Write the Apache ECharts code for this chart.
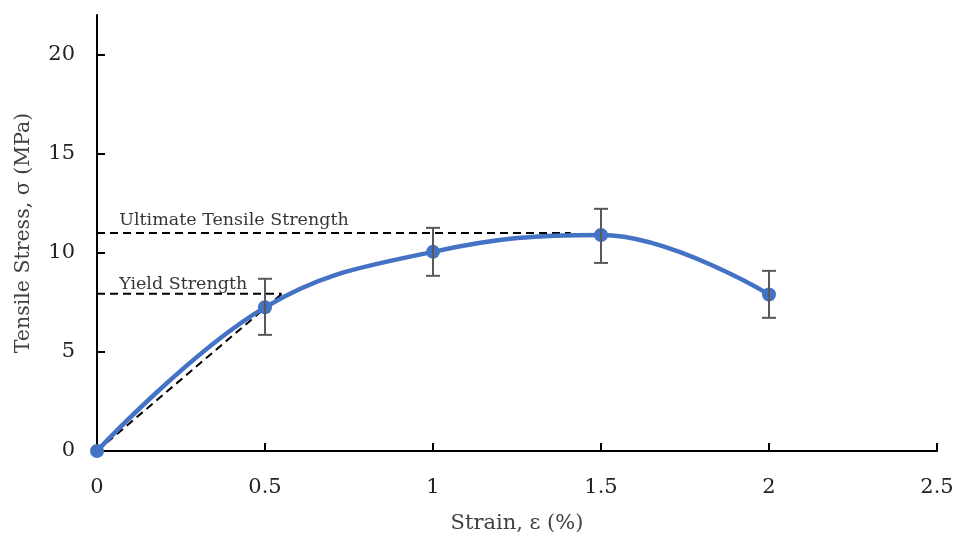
<!DOCTYPE html>
<html lang="en">
  <head>
    <meta charset="UTF-8">
    <title>Tensile stress vs strain</title>
    <script src="https://cdn.jsdelivr.net/npm/echarts@6/dist/echarts.min.js"></script>
    <style>
      html, body { margin: 0; padding: 0; background: #fff; }
      #chart { width: 957px; height: 537px; }
    </style>
  </head>
  <body>
    <div id="chart"></div>
    <script>
      // 测量数据
      const strain = [0, 0.5, 1, 1.5, 2]
      const stress = [0, 7.25, 10.05, 10.9, 7.9]
      const errLow = [0, 5.86, 8.84, 9.49, 6.72]
      const errHigh = [0, 8.69, 11.26, 12.22, 9.09]
      // 辅助虚线
      const utsLine = [[0, 11], [1.41, 11]]
      const yieldLine = [[0, 7.93], [0.55, 7.93]]
      const slopeLine = [[0, 0], [0.55, 7.93]]
      const notes = [
        { value: [0.066, 11.65], name: 'Ultimate Tensile Strength' },
        { value: [0.066, 8.4], name: 'Yield Strength' }
      ]

      const font = 'DejaVu Serif'
      const chart = echarts.init(document.getElementById('chart'))

      const dashed = (data) => ({
        type: 'line',
        data: data,
        symbol: 'none',
        silent: true,
        lineStyle: { color: '#000', width: 2, type: [8, 5] },
        z: 1
      })

      chart.setOption({
        animation: false,
        grid: { left: 97, right: 20, top: 15, bottom: 86, containLabel: false, outerBoundsMode: 'none' },
        xAxis: {
          type: 'value',
          min: 0,
          max: 2.5,
          interval: 0.5,
          name: 'Strain, ε (%)',
          nameLocation: 'middle',
          nameGap: 62,
          nameTextStyle: { fontFamily: font, fontSize: 21, color: '#404040' },
          axisLine: { lineStyle: { color: '#000', width: 2 } },
          axisTick: { inside: true, length: 8, lineStyle: { color: '#000', width: 2 } },
          axisLabel: { fontFamily: font, fontSize: 21, color: '#222', margin: 26 },
          splitLine: { show: false }
        },
        yAxis: {
          type: 'value',
          min: 0,
          max: 22,
          interval: 5,
          name: 'Tensile Stress, σ (MPa)',
          nameLocation: 'middle',
          nameGap: 63,
          nameTextStyle: { fontFamily: font, fontSize: 20.5, color: '#404040' },
          axisLine: { lineStyle: { color: '#000', width: 2 } },
          axisTick: { inside: true, length: 8, lineStyle: { color: '#000', width: 2 } },
          axisLabel: { fontFamily: font, fontSize: 21, color: '#222', margin: 22, showMaxLabel: false },
          splitLine: { show: false }
        },
        series: [
          dashed(utsLine),
          dashed(yieldLine),
          dashed(slopeLine),
          {
            type: 'line',
            data: strain.map((x, i) => [x, stress[i]]),
            smooth: 0.4,
            symbol: 'circle',
            symbolSize: 14,
            itemStyle: { color: '#4472C4' },
            lineStyle: { color: '#4472C4', width: 4.5 },
            z: 3
          },
          {
            type: 'custom',
            data: strain.map((x, i) => [x, errLow[i], errHigh[i]]).filter(d => d[2] > d[1]),
            z: 4,
            renderItem: (params, api) => {
              const lo = api.coord([api.value(0), api.value(1)])
              const hi = api.coord([api.value(0), api.value(2)])
              const w = 7
              const style = { stroke: '#595959', lineWidth: 2 }
              return {
                type: 'group',
                children: [
                  { type: 'line', shape: { x1: lo[0], y1: lo[1], x2: hi[0], y2: hi[1] }, style: style },
                  { type: 'line', shape: { x1: lo[0] - w, y1: lo[1], x2: lo[0] + w, y2: lo[1] }, style: style },
                  { type: 'line', shape: { x1: hi[0] - w, y1: hi[1], x2: hi[0] + w, y2: hi[1] }, style: style }
                ]
              }
            }
          },
          {
            type: 'scatter',
            data: notes,
            symbolSize: 0,
            silent: true,
            label: {
              show: true,
              position: 'right',
              distance: 0,
              formatter: '{b}',
              fontFamily: font,
              fontSize: 17.5,
              color: '#000'
            }
          }
        ]
      })
    </script>
  </body>
</html>
